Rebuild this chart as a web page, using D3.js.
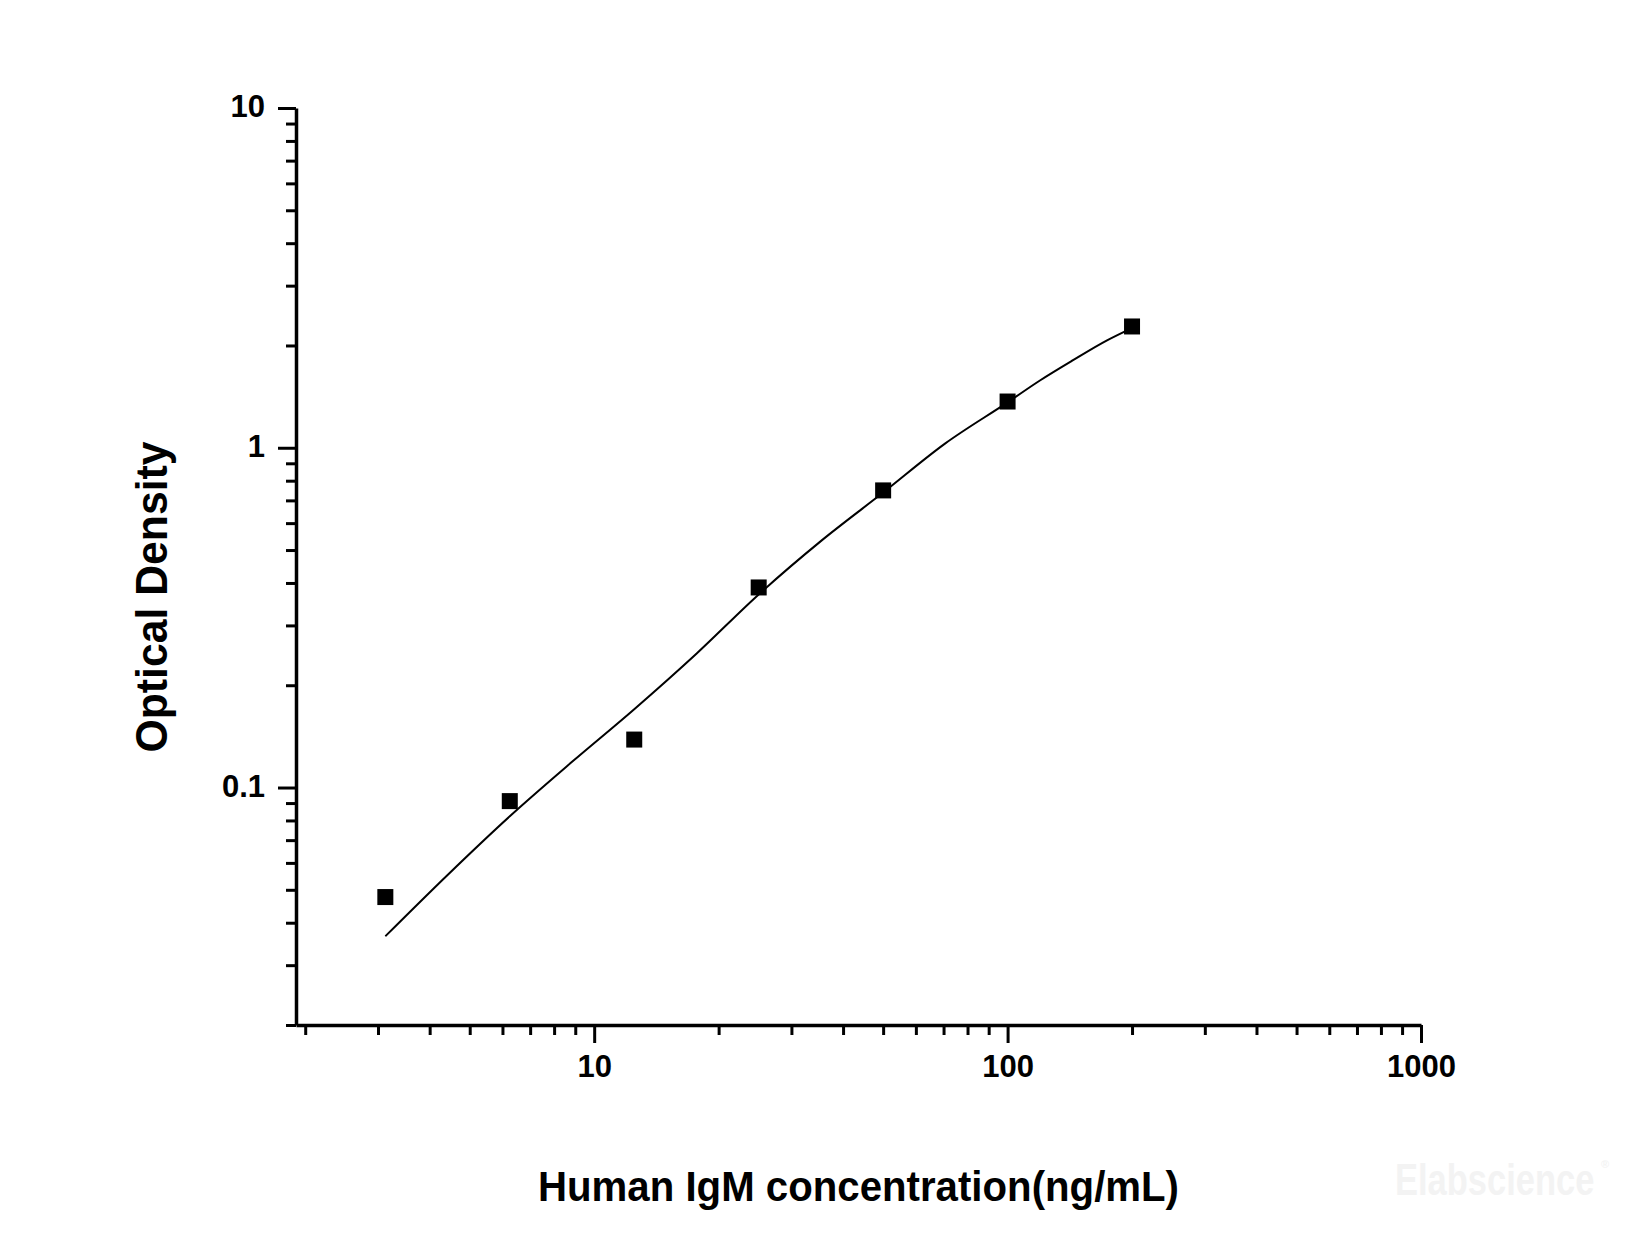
<!DOCTYPE html>
<html>
<head>
<meta charset="utf-8">
<script src="https://cdn.jsdelivr.net/npm/d3@7"></script>
<style>
  html, body { margin: 0; padding: 0; background: #ffffff; }
  svg { display: block; }
  text { font-family: "Liberation Sans", Arial, sans-serif; font-weight: bold; fill: #000; }
</style>
</head>
<body>
<svg id="chart" width="1650" height="1237"></svg>
<script>
// ---- data ----
const concentrations = [3.125, 6.25, 12.5, 25, 50, 100, 200];          // ng/mL
const opticalDensity = [0.0476, 0.0912, 0.1384, 0.388, 0.749, 1.368, 2.275];

// fitted curve
const curveX = [3.125, 4.42, 6.25, 8.84, 12.5, 17.7, 25, 35.4, 50, 70.7, 100, 120, 144, 174, 200];
const curveY = [0.0365, 0.0553, 0.0823, 0.119, 0.170, 0.248, 0.370, 0.532, 0.738, 1.03, 1.36, 1.58, 1.81, 2.07, 2.25];

const xMajorTicks = [10, 100, 1000];
const xMinorTicks = [2,3,4,5,6,7,8,9,20,30,40,50,60,70,80,90,200,300,400,500,600,700,800,900];
const yMajorTicks = [0.1, 1, 10];
const yMinorTicks = [0.02,0.03,0.04,0.05,0.06,0.07,0.08,0.09,0.2,0.3,0.4,0.5,0.6,0.7,0.8,0.9,2,3,4,5,6,7,8,9];
const xDomain = [1.9, 1000];
const yDomain = [0.02, 10];
const xTitle = "Human IgM concentration(ng/mL)";
const yTitle = "Optical Density";
const watermark = "Elabscience";

(function () {
// ---- layout ----
const svg = d3.select("#chart");
const pLeft = 296, pRight = 1421, pTop = 108, pBottom = 1025;

const x = d3.scaleLog().domain(xDomain).range([pLeft, pRight]);
const y = d3.scaleLog().domain(yDomain).range([pBottom, pTop]);

const fmt = d => (d < 1 ? d.toString() : d3.format("d")(d));

// minor ticks
svg.append("g")
  .attr("transform", `translate(0,${pBottom})`)
  .call(d3.axisBottom(x).tickValues(xMinorTicks).tickSize(10).tickSizeOuter(0).tickFormat(""))
  .call(g => g.select(".domain").remove())
  .call(g => g.selectAll("line").attr("stroke", "#000").attr("stroke-width", 3));

svg.append("g")
  .attr("transform", `translate(${pLeft},0)`)
  .call(d3.axisLeft(y).tickValues(yMinorTicks).tickSize(10).tickSizeOuter(0).tickFormat(""))
  .call(g => g.select(".domain").remove())
  .call(g => g.selectAll("line").attr("stroke", "#000").attr("stroke-width", 3));

// major ticks + labels
const xAxis = svg.append("g")
  .attr("transform", `translate(0,${pBottom})`)
  .call(d3.axisBottom(x).tickValues(xMajorTicks).tickSize(18).tickSizeOuter(0).tickPadding(12).tickFormat(fmt));
xAxis.select(".domain").attr("stroke", "#000").attr("stroke-width", 3.5);
xAxis.selectAll("line").attr("stroke", "#000").attr("stroke-width", 3);
xAxis.selectAll("text").style("font-size", "31px").style("font-family", "'Liberation Sans', Arial, sans-serif").style("font-weight", "bold").attr("fill", "#000");

const yAxis = svg.append("g")
  .attr("transform", `translate(${pLeft},0)`)
  .call(d3.axisLeft(y).tickValues(yMajorTicks).tickSize(18).tickSizeOuter(0).tickPadding(13).tickFormat(fmt));
yAxis.select(".domain").attr("stroke", "#000").attr("stroke-width", 3.5);
yAxis.selectAll("line").attr("stroke", "#000").attr("stroke-width", 3);
yAxis.selectAll("text").style("font-size", "31px").style("font-family", "'Liberation Sans', Arial, sans-serif").style("font-weight", "bold").attr("fill", "#000").attr("dy", "0.28em");

// fitted curve
const curvePts = curveX.map((c, i) => [c, curveY[i]]);
svg.append("path")
  .datum(curvePts)
  .attr("fill", "none")
  .attr("stroke", "#000")
  .attr("stroke-width", 2)
  .attr("d", d3.line().x(d => x(d[0])).y(d => y(d[1])).curve(d3.curveMonotoneX));

// markers
const ms = 16;
svg.append("g").selectAll("rect")
  .data(concentrations.map((c, i) => [c, opticalDensity[i]]))
  .join("rect")
  .attr("x", d => x(d[0]) - ms / 2)
  .attr("y", d => y(d[1]) - ms / 2)
  .attr("width", ms)
  .attr("height", ms)
  .attr("fill", "#000");

// titles
svg.append("text")
  .attr("x", (pLeft + pRight) / 2)
  .attr("y", 1201)
  .attr("text-anchor", "middle")
  .attr("textLength", 641)
  .attr("lengthAdjust", "spacingAndGlyphs")
  .style("font-size", "43px")
  .text(xTitle);

svg.append("text")
  .attr("transform", `translate(167,${597}) rotate(-90)`)
  .attr("text-anchor", "middle")
  .attr("textLength", 311)
  .attr("lengthAdjust", "spacingAndGlyphs")
  .style("font-size", "44px")
  .text(yTitle);

// watermark (very faint)
svg.append("text")
  .attr("transform", "translate(1395,1195) scale(1,1.27)")
  .style("font-size", "34.5px")
  .style("fill", "#f3f3f3")
  .text(watermark);
svg.append("text")
  .attr("x", 1601)
  .attr("y", 1168)
  .style("font-size", "11px")
  .style("fill", "#f3f3f3")
  .text("®");
})();
</script>
</body>
</html>
